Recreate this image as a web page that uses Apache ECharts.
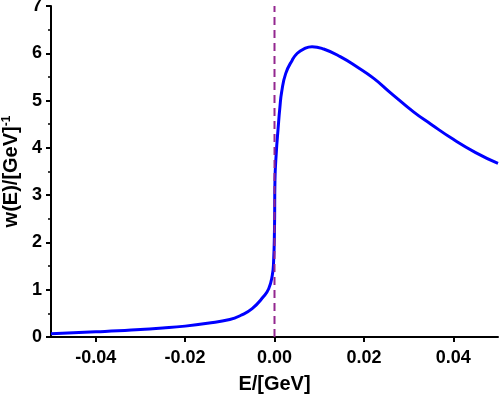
<!DOCTYPE html>
<html>
<head>
<meta charset="utf-8">
<script src="https://cdn.jsdelivr.net/npm/echarts@6/dist/echarts.min.js"></script>
<style>
  html, body { margin: 0; padding: 0; background: #fff; }
  #chart { width: 499px; height: 395px; }
</style>
</head>
<body>
<div id="chart"></div>
<script>
// energies in GeV
const energy = [-0.05, -0.045, -0.04, -0.035, -0.03, -0.025, -0.02, -0.015, -0.01, -0.0075,
  -0.005, -0.0025, -0.0013, -0.0005, -0.0002, 0, 0.0001, 0.0004, 0.0008, 0.0012,
  0.0016, 0.0025, 0.004, 0.0051, 0.0065, 0.0084, 0.011, 0.0147, 0.0185, 0.0222,
  0.0259, 0.0311, 0.035, 0.04, 0.045, 0.05];
const weight = [0.07, 0.09, 0.11, 0.13, 0.16, 0.19, 0.23, 0.29, 0.37, 0.46,
  0.6, 0.85, 1.02, 1.3, 1.6, 2.3, 3.3, 3.9, 4.4, 4.85,
  5.18, 5.57, 5.86, 6.0, 6.09, 6.14, 6.09, 5.93, 5.71, 5.47,
  5.17, 4.76, 4.5, 4.18, 3.9, 3.67];
// vertical marker at E = 0
const markE = [0, 0];
const markW = [0, 7];
const xTicks = [-0.04, -0.02, 0, 0.02, 0.04];

const chart = echarts.init(document.getElementById('chart'));
const font = 'Liberation Sans, Arial, sans-serif';

chart.setOption({
  animation: false,
  grid: { left: 51, right: 1, top: 6, bottom: 58, outerBoundsMode: 'none' },
  xAxis: {
    type: 'value',
    min: -0.05,
    max: 0.05,
    name: 'E/[GeV]',
    nameLocation: 'middle',
    nameGap: 37,
    nameTextStyle: { fontFamily: font, fontWeight: 'bold', fontSize: 20, color: '#000' },
    axisLine: { onZero: false, lineStyle: { color: '#000', width: 2 } },
    axisTick: { length: 5, customValues: xTicks, lineStyle: { color: '#000', width: 2 } },
    axisLabel: {
      customValues: xTicks,
      margin: 12,
      fontFamily: font, fontWeight: 'bold', fontSize: 18, color: '#000',
      formatter: v => v.toFixed(2)
    },
    splitLine: { show: false }
  },
  yAxis: {
    type: 'value',
    min: 0,
    max: 7,
    interval: 1,
    name: 'w(E)/[GeV]{sup|-1}',
    nameLocation: 'middle',
    nameGap: 25,
    nameTextStyle: {
      fontFamily: font, fontWeight: 'bold', fontSize: 20, color: '#000',
      rich: {
        sup: { fontFamily: font, fontWeight: 'bold', fontSize: 12, color: '#000', verticalAlign: 'top', padding: [0, 0, 8, 0] }
      }
    },
    axisLine: { show: true, onZero: false, lineStyle: { color: '#000', width: 2 } },
    axisTick: { length: 5, lineStyle: { color: '#000', width: 2 } },
    minorTick: { show: true, splitNumber: 2, length: 3, lineStyle: { color: '#000', width: 1.5 } },
    axisLabel: { margin: 9, fontFamily: font, fontWeight: 'bold', fontSize: 18, color: '#000' },
    splitLine: { show: false }
  },
  series: [
    {
      type: 'line',
      data: energy.map((e, i) => [e, weight[i]]),
      showSymbol: false,
      smooth: 0.5,
      lineStyle: { color: '#0000ff', width: 3 },
      z: 2
    },
    {
      type: 'line',
      data: markE.map((e, i) => [e, markW[i]]),
      showSymbol: false,
      lineStyle: { color: '#93278f', width: 2, type: [8, 5] },
      z: 3
    }
  ]
});
</script>
</body>
</html>
